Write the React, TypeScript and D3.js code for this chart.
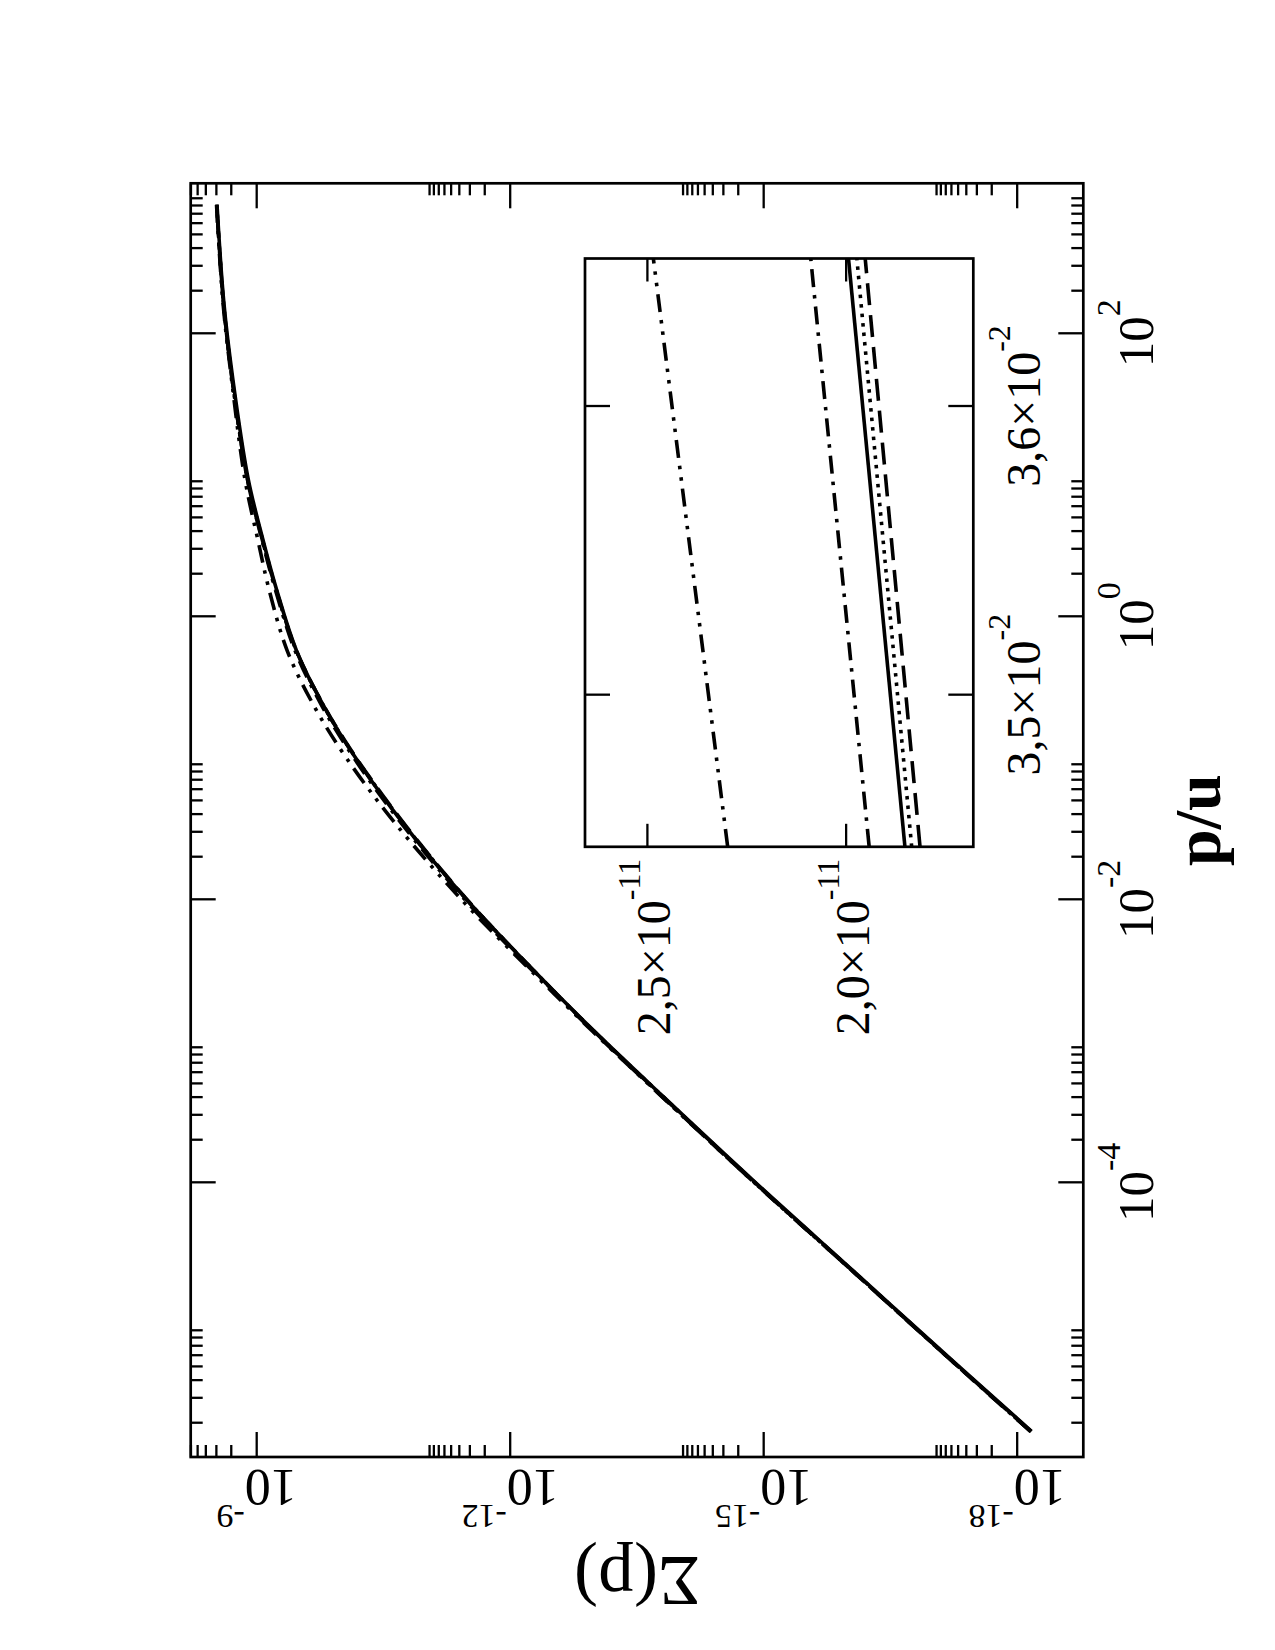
import * as d3 from "d3";

// p/u sample points, shared by the five curves
const pGrid = [
  1.74e-6, 5.25e-6, 2.34e-5, 1.0e-4, 3.98e-4, 1.26e-3, 3.31e-3, 1.0e-2, 3.47e-2,
  0.102, 0.234, 0.575, 1.51, 3.55, 9.33, 46.8, 166, 813,
];

// Sigma(p) for each curve
const sigmaSolid = [
  6.76e-19, 5.37e-18, 8.51e-17, 1.26e-15, 1.51e-14, 1.15e-13, 5.75e-13, 3.31e-12, 1.87e-11,
  6.92e-11, 1.62e-10, 3.39e-10, 5.75e-10, 8.51e-10, 1.26e-9, 1.91e-9, 2.45e-9, 2.95e-9,
];
const sigmaDotted = [
  6.85e-19, 5.45e-18, 8.63e-17, 1.28e-15, 1.52e-14, 1.16e-13, 5.75e-13, 3.29e-12, 1.85e-11,
  6.87e-11, 1.62e-10, 3.41e-10, 5.8e-10, 8.61e-10, 1.28e-9, 1.94e-9, 2.48e-9, 2.97e-9,
];
const sigmaDashed = [
  6.92e-19, 5.49e-18, 8.69e-17, 1.28e-15, 1.53e-14, 1.16e-13, 5.75e-13, 3.27e-12, 1.83e-11,
  6.81e-11, 1.61e-10, 3.41e-10, 5.83e-10, 8.67e-10, 1.29e-9, 1.95e-9, 2.48e-9, 2.98e-9,
];
const sigmaDashDot = [
  6.95e-19, 5.52e-18, 8.75e-17, 1.3e-15, 1.56e-14, 1.19e-13, 5.98e-13, 3.46e-12, 1.96e-11,
  7.25e-11, 1.7e-10, 3.53e-10, 5.95e-10, 8.75e-10, 1.29e-9, 1.95e-9, 2.48e-9, 2.98e-9,
];
const sigmaDashDotDot = [
  6.92e-19, 5.49e-18, 8.75e-17, 1.3e-15, 1.57e-14, 1.21e-13, 6.23e-13, 3.8e-12, 2.32e-11,
  8.91e-11, 2.11e-10, 4.37e-10, 7.07e-10, 9.77e-10, 1.38e-9, 1.98e-9, 2.51e-9, 2.99e-9,
];

// inset: the same curves near p/u = 0.035
const insetP = [0.034473, 0.036511];
const insetSolid = [1.852e-11, 1.994e-11];
const insetDotted = [1.835e-11, 1.973e-11];
const insetDashed = [1.814e-11, 1.952e-11];
const insetDashDot = [1.942e-11, 2.089e-11];
const insetDashDotDot = [2.298e-11, 2.485e-11];

// axes
const sigmaDomain = [6.04e-9, 1.65e-19];
const pDomain = [1.145e-6, 1.148e3];
const sigmaMajor = [1e-9, 1e-12, 1e-15, 1e-18];
const sigmaExp = ["-9", "-12", "-15", "-18"];
const pMajor = [1e-4, 1e-2, 1, 1e2];
const pExp = ["-4", "-2", "0", "2"];
const pMinorBase = [1e-6, 1e-4, 1e-2, 1, 1e2];

const insetSigmaDomain = [2.657e-11, 1.68e-11];
const insetPDomain = [0.034473, 0.036511];
const insetSigmaTicks = [2.5e-11, 2.0e-11];
const insetSigmaLabels = ["2,5×10", "2,0×10"];
const insetPTicks = [0.035, 0.036];
const insetPLabels = ["3,5×10", "3,6×10"];

const dashes = ["none", "3.5 6", "22 10", "18 8 3.5 8", "18 8 3.5 8 3.5 8"];

const FONT = "Liberation Serif, Times New Roman, DejaVu Serif, serif";

export default function App() {
  const W = 1275;
  const H = 1650;
  const fr = { left: 190.7, right: 1083.3, top: 183.3, bottom: 1457 };
  const ins = { left: 585, right: 973.3, top: 258.5, bottom: 846.8 };

  const x = d3.scaleLog().domain(sigmaDomain).range([fr.left, fr.right]);
  const y = d3.scaleLog().domain(pDomain).range([fr.bottom, fr.top]);
  const ix = d3.scaleLinear().domain(insetSigmaDomain).range([ins.left, ins.right]);
  const iy = d3.scaleLinear().domain(insetPDomain).range([ins.bottom, ins.top]);

  const mainSeries = [sigmaSolid, sigmaDotted, sigmaDashed, sigmaDashDot, sigmaDashDotDot];
  const insetSeries = [insetSolid, insetDotted, insetDashed, insetDashDot, insetDashDotDot];

  const line = d3
    .line<[number, number]>()
    .x((d) => x(d[1]))
    .y((d) => y(d[0]))
    .curve(d3.curveCatmullRom.alpha(0.5));
  const iline = d3
    .line<[number, number]>()
    .x((d) => ix(d[1]))
    .y((d) => iy(d[0]));

  const inRange = (v: number, dom: number[]) =>
    v >= Math.min(dom[0], dom[1]) && v <= Math.max(dom[0], dom[1]);

  const sigmaMinor: number[] = [];
  sigmaMajor.forEach((m) => {
    for (let k = 2; k <= 9; k++) if (inRange(m * k, sigmaDomain)) sigmaMinor.push(m * k);
  });
  const pMinor: number[] = [];
  pMinorBase.forEach((m) => {
    for (let k = 2; k <= 9; k++) if (inRange(m * k, pDomain)) pMinor.push(m * k);
  });

  const MAJ = 25;
  const MIN = 12;
  const sw = 2.3;
  const lw = 3.6;

  return (
    <svg
      width={W}
      height={H}
      style={{ position: "absolute", left: 0, top: 0, background: "#fff" }}
      fontFamily={FONT}
    >
      <defs>
        <clipPath id="mainClip">
          <rect x={fr.left} y={fr.top} width={fr.right - fr.left} height={fr.bottom - fr.top} />
        </clipPath>
        <clipPath id="insetClip">
          <rect x={ins.left} y={ins.top} width={ins.right - ins.left} height={ins.bottom - ins.top} />
        </clipPath>
      </defs>
      <rect width={W} height={H} fill="#fff" />

      {/* main curves */}
      <g clipPath="url(#mainClip)" fill="none" stroke="#000" strokeWidth={lw}>
        {mainSeries.map((s, i) => (
          <path
            key={i}
            d={line(pGrid.map((p, j) => [p, s[j]] as [number, number])) || ""}
            strokeDasharray={dashes[i]}
          />
        ))}
      </g>

      {/* main ticks */}
      <g stroke="#000" strokeWidth={sw}>
        {sigmaMajor.map((v) => (
          <g key={"sM" + v}>
            <line x1={x(v)} x2={x(v)} y1={fr.bottom} y2={fr.bottom - MAJ} />
            <line x1={x(v)} x2={x(v)} y1={fr.top} y2={fr.top + MAJ} />
          </g>
        ))}
        {sigmaMinor.map((v) => (
          <g key={"sm" + v}>
            <line x1={x(v)} x2={x(v)} y1={fr.bottom} y2={fr.bottom - MIN} />
            <line x1={x(v)} x2={x(v)} y1={fr.top} y2={fr.top + MIN} />
          </g>
        ))}
        {pMajor.map((v) => (
          <g key={"pM" + v}>
            <line x1={fr.left} x2={fr.left + MAJ} y1={y(v)} y2={y(v)} />
            <line x1={fr.right} x2={fr.right - MAJ} y1={y(v)} y2={y(v)} />
          </g>
        ))}
        {pMinor.map((v) => (
          <g key={"pm" + v}>
            <line x1={fr.left} x2={fr.left + MIN} y1={y(v)} y2={y(v)} />
            <line x1={fr.right} x2={fr.right - MIN} y1={y(v)} y2={y(v)} />
          </g>
        ))}
      </g>
      <rect
        x={fr.left}
        y={fr.top}
        width={fr.right - fr.left}
        height={fr.bottom - fr.top}
        fill="none"
        stroke="#000"
        strokeWidth={sw + 0.4}
      />

      {/* main tick labels */}
      {sigmaMajor.map((v, i) => (
        <text
          key={"sl" + v}
          transform={`translate(${x(v)},1470) rotate(180)`}
          textAnchor="middle"
          fontSize={52}
        >
          10
          <tspan dy={-35} fontSize={34}>
            {sigmaExp[i]}
          </tspan>
        </text>
      ))}
      {pMajor.map((v, i) => (
        <text
          key={"pl" + v}
          transform={`translate(1153,${y(v)}) rotate(-90)`}
          textAnchor="middle"
          fontSize={51}
        >
          10
          <tspan dy={-33} fontSize={34}>
            {pExp[i]}
          </tspan>
        </text>
      ))}

      {/* axis titles */}
      <text transform="translate(637,1557) rotate(180)" textAnchor="middle" fontSize={72}>
        Σ(p)
      </text>
      <text
        transform={`translate(1220,${(fr.top + fr.bottom) / 2}) rotate(-90)`}
        textAnchor="middle"
        fontSize={66}
        fontWeight="bold"
      >
        p/u
      </text>

      {/* inset */}
      <rect
        x={ins.left}
        y={ins.top}
        width={ins.right - ins.left}
        height={ins.bottom - ins.top}
        fill="#fff"
      />
      <g clipPath="url(#insetClip)" fill="none" stroke="#000" strokeWidth={lw}>
        {insetSeries.map((s, i) => (
          <path
            key={i}
            d={iline(insetP.map((p, j) => [p, s[j]] as [number, number])) || ""}
            strokeDasharray={dashes[i]}
          />
        ))}
      </g>
      <g stroke="#000" strokeWidth={sw}>
        {insetSigmaTicks.map((v) => (
          <g key={"is" + v}>
            <line x1={ix(v)} x2={ix(v)} y1={ins.bottom} y2={ins.bottom - 23} />
            <line x1={ix(v)} x2={ix(v)} y1={ins.top} y2={ins.top + 23} />
          </g>
        ))}
        {insetPTicks.map((v) => (
          <g key={"ip" + v}>
            <line x1={ins.left} x2={ins.left + 25} y1={iy(v)} y2={iy(v)} />
            <line x1={ins.right} x2={ins.right - 25} y1={iy(v)} y2={iy(v)} />
          </g>
        ))}
      </g>
      <rect
        x={ins.left}
        y={ins.top}
        width={ins.right - ins.left}
        height={ins.bottom - ins.top}
        fill="none"
        stroke="#000"
        strokeWidth={sw + 0.4}
      />
      {insetSigmaTicks.map((v, i) => (
        <text
          key={"isl" + v}
          transform={`translate(${ix(v) + 23},${ins.bottom + 12}) rotate(-90)`}
          textAnchor="end"
          fontSize={48}
        >
          {insetSigmaLabels[i]}
          <tspan dy={-30} fontSize={32}>
            -11
          </tspan>
        </text>
      ))}
      {insetPTicks.map((v, i) => (
        <text
          key={"ipl" + v}
          transform={`translate(1040,${iy(v)}) rotate(-90)`}
          textAnchor="middle"
          fontSize={48}
        >
          {insetPLabels[i]}
          <tspan dy={-30} fontSize={32}>
            -2
          </tspan>
        </text>
      ))}
    </svg>
  );
}
